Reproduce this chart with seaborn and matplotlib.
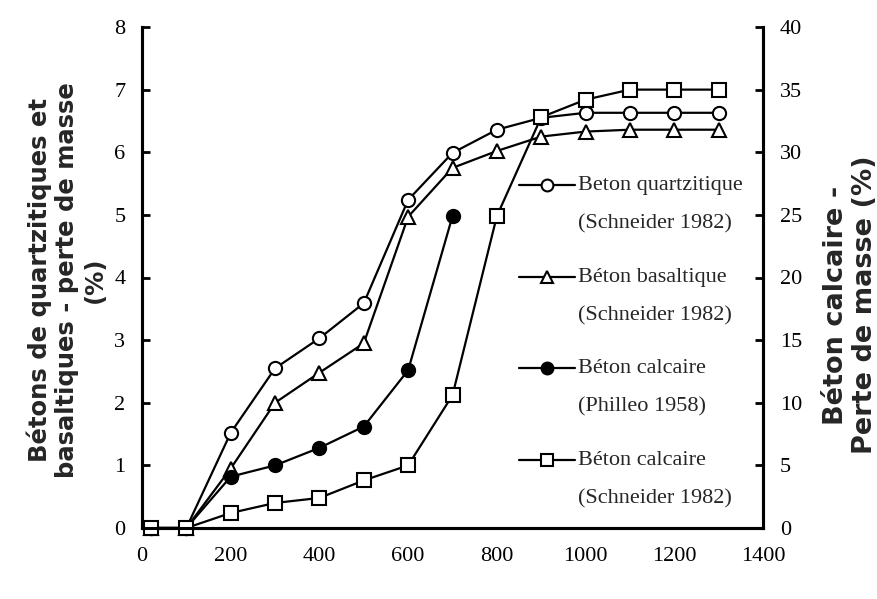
import matplotlib
matplotlib.use("Agg")
import matplotlib.pyplot as plt
from matplotlib.lines import Line2D
from matplotlib.legend_handler import HandlerLine2D
import numpy as np
import seaborn as sns
import pandas as pd

# ---- data ----
temps = [20, 100, 200, 300, 400, 500, 600, 700, 800, 900, 1000, 1100, 1200, 1300]
quartz = [0, 0, 1.52, 2.55, 3.03, 3.59, 5.24, 5.99, 6.36, 6.55, 6.63, 6.63, 6.63, 6.63]
basalt = [0, 0, 0.95, 2.0, 2.48, 2.95, 4.97, 5.75, 6.02, 6.25, 6.33, 6.36, 6.36, 6.36]
temps_philleo = [20, 100, 200, 300, 400, 500, 600, 700]
calc_philleo = [0, 0, 4.1, 5.0, 6.4, 8.1, 12.6, 24.9]
calc_schneider = [0, 0, 1.2, 2.0, 2.4, 3.8, 5.0, 10.6, 24.9, 32.8, 34.2, 35, 35, 35]

x_ticks = [0, 200, 400, 600, 800, 1000, 1200, 1400]
left_ticks = [0, 1, 2, 3, 4, 5, 6, 7, 8]
right_ticks = [0, 5, 10, 15, 20, 25, 30, 35, 40]

labels = ["Beton quartzitique\n(Schneider 1982)",
          "Béton basaltique\n(Schneider 1982)",
          "Béton calcaire\n(Philleo 1958)",
          "Béton calcaire\n(Schneider 1982)"]

left_label = "Bétons de quartzitiques et\nbasaltiques - perte de masse\n(%)"
right_label = "Béton calcaire -\nPerte de masse (%)"

df_left = pd.DataFrame({"T": temps, "quartz": quartz, "basalt": basalt})
df_ph = pd.DataFrame({"T": temps_philleo, "v": calc_philleo})
df_sc = pd.DataFrame({"T": temps, "v": calc_schneider})

sns.set_theme(style="white")
plt.rcParams["font.family"] = ["Liberation Serif", "DejaVu Serif"]

fig = plt.figure(figsize=(8.77, 5.99), dpi=100)
ax = fig.add_axes([142/877, 1-528/599, (763-142)/877, (528-27)/599])
ax2 = ax.twinx()

lw = 1.6
ms = 9.5
common = dict(color="black", linewidth=lw, markersize=ms, markeredgewidth=1.5, clip_on=False)

sns.lineplot(data=df_left, x="T", y="quartz", ax=ax, marker="o", markerfacecolor="white",
             markeredgecolor="black", **common)
sns.lineplot(data=df_left, x="T", y="basalt", ax=ax, marker="^", markerfacecolor="white",
             markeredgecolor="black", **common)
sns.lineplot(data=df_ph, x="T", y="v", ax=ax2, marker="o", markerfacecolor="black",
             markeredgecolor="black", **common)
sns.lineplot(data=df_sc, x="T", y="v", ax=ax2, marker="s", markerfacecolor="white",
             markeredgecolor="black", **common)

ax.set_xlim(0, 1400)
ax.set_ylim(0, 8)
ax2.set_ylim(0, 40)
ax.set_xticks(x_ticks)
ax.set_yticks(left_ticks)
ax2.set_yticks(right_ticks)
ax.set_xticklabels([str(t) for t in x_ticks])
ax.set_yticklabels([str(t) for t in left_ticks])
ax2.set_yticklabels([str(t) for t in right_ticks])

for a in (ax, ax2):
    a.spines["top"].set_visible(False)
    for s in ("left", "right", "bottom"):
        a.spines[s].set_linewidth(2.2)
        a.spines[s].set_color("black")
    a.tick_params(direction="in", length=6, width=2, colors="black", labelsize=16)
    a.grid(False)
ax.tick_params(axis="x", pad=14)
ax.tick_params(axis="y", pad=12)
ax2.tick_params(axis="y", pad=12)

ax.set_xlabel("")
ax.set_ylabel(left_label, fontsize=17.5, fontweight="bold", family=["DejaVu Sans"],
              linespacing=1.2, labelpad=5)
ax2.set_ylabel(right_label, fontsize=19.5, fontweight="bold", family=["DejaVu Sans"],
               linespacing=1.17, labelpad=15)
ax.yaxis.label.set_y(0.495)
ax2.yaxis.label.set_y(0.445)


class FirstLineHandler(HandlerLine2D):
    """Put the handle next to the first line of a two-line label."""
    shift = 13.7

    def create_artists(self, legend, orig_handle, xdescent, ydescent, width, height,
                       fontsize, trans):
        arts = super().create_artists(legend, orig_handle, xdescent, ydescent, width,
                                      height, fontsize, trans)
        for a in arts:
            a.set_ydata(np.asarray(a.get_ydata(), dtype=float) + self.shift)
        return arts


styles = [dict(marker="o", markerfacecolor="white"),
          dict(marker="^", markerfacecolor="white"),
          dict(marker="o", markerfacecolor="black"),
          dict(marker="s", markerfacecolor="white")]
handles = [Line2D([], [], color="black", linewidth=lw, markersize=ms - 1,
                  markeredgewidth=1.5, markeredgecolor="black", **st) for st in styles]
leg = ax.legend(handles, labels, loc="upper left",
                bbox_to_anchor=(508/877, 1-165/599), bbox_transform=fig.transFigure,
                frameon=False, fontsize=16, handlelength=2.5, handletextpad=0.15,
                labelspacing=1.53, borderpad=0,
                handler_map={Line2D: FirstLineHandler()})
for t in leg.get_texts():
    t.set_linespacing(2.35)

fig.savefig("out.png", dpi=100)
